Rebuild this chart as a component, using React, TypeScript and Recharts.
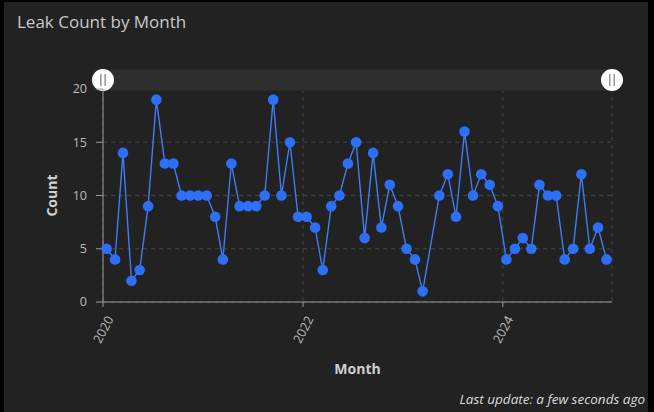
import React from 'react'
import { LineChart, Line, XAxis, YAxis, CartesianGrid, Brush } from 'recharts'

// monthly leak counts, Jan 2020 .. Jan 2025 (Apr 2023 has no record)
const months = [
  '2020-01', '2020-02', '2020-03', '2020-04', '2020-05', '2020-06',
  '2020-07', '2020-08', '2020-09', '2020-10', '2020-11', '2020-12',
  '2021-01', '2021-02', '2021-03', '2021-04', '2021-05', '2021-06',
  '2021-07', '2021-08', '2021-09', '2021-10', '2021-11', '2021-12',
  '2022-01', '2022-02', '2022-03', '2022-04', '2022-05', '2022-06',
  '2022-07', '2022-08', '2022-09', '2022-10', '2022-11', '2022-12',
  '2023-01', '2023-02', '2023-03', '2023-04', '2023-05', '2023-06',
  '2023-07', '2023-08', '2023-09', '2023-10', '2023-11', '2023-12',
  '2024-01', '2024-02', '2024-03', '2024-04', '2024-05', '2024-06',
  '2024-07', '2024-08', '2024-09', '2024-10', '2024-11', '2024-12',
  '2025-01',
]

const counts: (number | null)[] = [
  5, 4, 14, 2, 3, 9, 19, 13, 13, 10, 10, 10,
  10, 8, 4, 13, 9, 9, 9, 10, 19, 10, 15, 8,
  8, 7, 3, 9, 10, 13, 15, 6, 14, 7, 11, 9,
  5, 4, 1, null, 10, 12, 8, 16, 10, 12, 11, 9,
  4, 5, 6, 5, 11, 10, 10, 4, 5, 12, 5, 7,
  4,
]

const yearTicks = ['2020-01-01', '2022-01-01', '2024-01-01']
const countTicks = [0, 5, 10, 15, 20]
const xStart = '2020-01-01'
const xEnd = '2025-02-03'

const toTime = (s: string) => new Date(s + 'T00:00:00Z').getTime()

const data = months.map((m, i) => ({ date: toTime(m + '-14'), count: counts[i] }))

const FONT = '"Open Sans", "Noto Sans", sans-serif'

function YearTick(props: any) {
  const { x, y, payload } = props
  return (
    <g transform={`translate(${x + 7}, ${y + 8})`}>
      <text
        transform="rotate(-62)"
        textAnchor="end"
        dy="0.35em"
        fill="#bdbdbd"
        fontSize={12.5}
        fontFamily={FONT}
      >
        {new Date(payload.value).getUTCFullYear()}
      </text>
    </g>
  )
}

function Handle(props: any) {
  const { x, y, width, height } = props
  const cx = x + width / 2
  const cy = y + height / 2
  return (
    <g>
      <circle cx={cx} cy={cy} r={11} fill="#ffffff" />
      <rect x={cx - 3} y={cy - 6} width={1.6} height={12} fill="#9a9a9a" />
      <rect x={cx + 1.4} y={cy - 6} width={1.6} height={12} fill="#9a9a9a" />
    </g>
  )
}

export default function App() {
  return (
    <div style={{ position: 'absolute', left: 0, top: 0, width: 654, height: 412, background: '#000', fontFamily: FONT }}>
      <div style={{ position: 'absolute', left: 4, top: 2, width: 644, height: 410, background: '#222222' }} />
      <div style={{ position: 'absolute', left: 17, top: 10, fontSize: 17, color: '#c9c9c9' }}>
        Leak Count by Month
      </div>
      <div style={{ position: 'absolute', left: 0, top: 0 }}>
        <LineChart
          width={654}
          height={412}
          data={data}
          margin={{ top: 89, right: 42, left: 43, bottom: 60 }}
        >
          <CartesianGrid stroke="#444" strokeDasharray="4 4" />
          <XAxis
            dataKey="date"
            type="number"
            scale="time"
            domain={[toTime(xStart), toTime(xEnd)]}
            ticks={yearTicks.map(toTime)}
            tick={<YearTick />}
            tickSize={5}
            stroke="#9a9a9a"
            height={30}
            label={{ value: 'Month', position: 'bottom', offset: 32, fill: '#cfcfcf', fontSize: 14, fontWeight: 700 }}
          />
          <YAxis
            domain={[0, 20]}
            ticks={countTicks}
            width={60}
            tickSize={7}
            tickMargin={9}
            stroke="#9a9a9a"
            tick={{ fill: '#bdbdbd', fontSize: 12.5, fontFamily: FONT }}
            label={{
              value: 'Count',
              angle: -90,
              position: 'insideLeft',
              offset: 9,
              fill: '#cfcfcf',
              fontSize: 14,
              fontWeight: 700,
              style: { textAnchor: 'middle' },
            }}
          />
          <Line
            dataKey="count"
            stroke="#3f7ef0"
            strokeWidth={1.4}
            connectNulls
            dot={{ r: 5.3, fill: '#2d6ff6', stroke: 'none' }}
            activeDot={false}
            isAnimationActive={false}
          />
          <Brush
            y={70}
            height={20}
            travellerWidth={0}
            fill="#2f2f2f"
            stroke="#2f2f2f"
            traveller={(p: any) => <Handle {...p} />}
          />
        </LineChart>
      </div>
      <div style={{ position: 'absolute', right: 9, top: 390, fontSize: 13.5, fontStyle: 'italic', color: '#dcdcdc' }}>
        Last update: a few seconds ago
      </div>
    </div>
  )
}
